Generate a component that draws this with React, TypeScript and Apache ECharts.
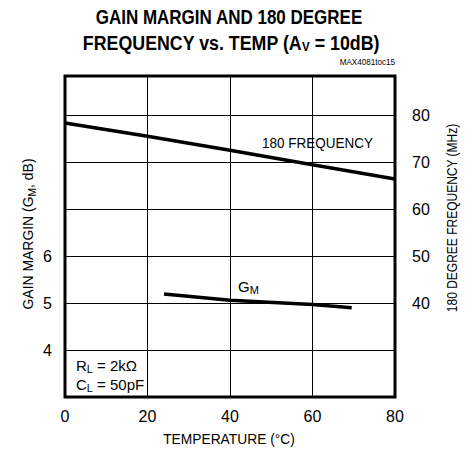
import { useEffect, useRef } from "react";
import * as echarts from "echarts";

const tempTicks = [0, 20, 40, 60, 80];
const freqTemps = [0, 20, 40, 60, 80];
const freqMHz = [78.3, 75.5, 72.5, 69.4, 66.4];
const gmTemps = [24, 40, 60, 69.5];
const gmDb = [5.19, 5.06, 4.97, 4.9];
const leftTickLabels = [4, 5, 6];
const rightTickLabels = [40, 50, 60, 70, 80];

const FONT = '"Liberation Sans", Arial, sans-serif';

export default function App() {
  const ref = useRef<HTMLDivElement>(null);
  useEffect(() => {
    if (!ref.current) return;
    const chart = echarts.init(ref.current, undefined, { renderer: "svg" });
    const sub = { fontFamily: FONT, fontSize: 11, fill: "#000", padding: [7, 0, 0, 0] };
    chart.setOption({
      animation: false,
      backgroundColor: "#fff",
      grid: {
        left: 65,
        right: 78,
        top: 76,
        bottom: 60,
        show: true,
        borderColor: "#000",
        borderWidth: 3,
        backgroundColor: "transparent",
      },
      xAxis: {
        type: "value",
        min: 0,
        max: 80,
        interval: 20,
        axisLine: { show: false },
        axisTick: { show: false },
        splitLine: { show: true, lineStyle: { color: "#000", width: 1 } },
        axisLabel: {
          margin: 11,
          fontFamily: FONT,
          fontSize: 16,
          color: "#000",
          formatter: (v: number) => (tempTicks.includes(v) ? String(v) : ""),
        },
      },
      yAxis: [
        {
          type: "value",
          min: 3,
          max: 9.83,
          interval: 1,
          axisLine: { show: false },
          axisTick: { show: false },
          splitLine: { show: true, lineStyle: { color: "#000", width: 1 } },
          axisLabel: {
            margin: 13,
            fontFamily: FONT,
            fontSize: 16,
            color: "#000",
            formatter: (v: number) => (leftTickLabels.includes(v) ? String(v) : ""),
          },
        },
        {
          type: "value",
          min: 20,
          max: 88.3,
          interval: 10,
          position: "right",
          axisLine: { show: false },
          axisTick: { show: false },
          splitLine: { show: false },
          axisLabel: {
            margin: 17,
            fontFamily: FONT,
            fontSize: 16,
            color: "#000",
            formatter: (v: number) => (rightTickLabels.includes(v) ? String(v) : ""),
          },
        },
      ],
      series: [
        {
          type: "line",
          yAxisIndex: 1,
          data: freqTemps.map((t, i) => [t, freqMHz[i]]),
          showSymbol: false,
          lineStyle: { color: "#000", width: 3.5 },
          silent: true,
        },
        {
          type: "line",
          yAxisIndex: 0,
          data: gmTemps.map((t, i) => [t, gmDb[i]]),
          showSymbol: false,
          lineStyle: { color: "#000", width: 3.5 },
          silent: true,
        },
      ],
      graphic: [
        {
          type: "text",
          x: 229,
          y: 17,
          scaleX: 0.85,
          style: {
            text: "GAIN MARGIN AND 180 DEGREE",
            font: `bold 20px ${FONT}`,
            fill: "#000",
            align: "center",
            verticalAlign: "middle",
          },
        },
        {
          type: "text",
          x: 231,
          y: 43,
          scaleX: 0.89,
          style: {
            text: "FREQUENCY vs. TEMP (A{s|V} = 10dB)",
            font: `bold 20px ${FONT}`,
            fill: "#000",
            align: "center",
            verticalAlign: "middle",
            rich: {
              s: { fontFamily: FONT, fontWeight: "bold", fontSize: 13, fill: "#000", padding: [8, 0, 0, 0] },
            },
          },
        },
        {
          type: "text",
          x: 395,
          y: 62,
          scaleX: 0.9,
          style: {
            text: "MAX4081toc15",
            font: `9px ${FONT}`,
            fill: "#000",
            align: "right",
            verticalAlign: "middle",
          },
        },
        {
          type: "text",
          x: 262,
          y: 143,
          scaleX: 0.9,
          style: {
            text: "180 FREQUENCY",
            font: `15px ${FONT}`,
            fill: "#000",
            align: "left",
            verticalAlign: "middle",
          },
        },
        {
          type: "text",
          x: 238,
          y: 286,
          style: {
            text: "G{s|M}",
            font: `15px ${FONT}`,
            fill: "#000",
            align: "left",
            verticalAlign: "middle",
            rich: { s: sub },
          },
        },
        {
          type: "text",
          x: 76,
          y: 365,
          style: {
            text: "R{s|L} = 2kΩ",
            font: `15px ${FONT}`,
            fill: "#000",
            align: "left",
            verticalAlign: "middle",
            rich: { s: sub },
          },
        },
        {
          type: "text",
          x: 76,
          y: 384,
          style: {
            text: "C{s|L} = 50pF",
            font: `15px ${FONT}`,
            fill: "#000",
            align: "left",
            verticalAlign: "middle",
            rich: { s: sub },
          },
        },
        {
          type: "text",
          x: 229,
          y: 439,
          scaleX: 0.92,
          style: {
            text: "TEMPERATURE (°C)",
            font: `15px ${FONT}`,
            fill: "#000",
            align: "center",
            verticalAlign: "middle",
          },
        },
        {
          type: "text",
          x: 28,
          y: 234,
          rotation: Math.PI / 2,
          scaleX: 0.93,
          style: {
            text: "GAIN MARGIN (G{s|M}, dB)",
            font: `15px ${FONT}`,
            fill: "#000",
            align: "center",
            verticalAlign: "middle",
            rich: { s: sub },
          },
        },
        {
          type: "text",
          x: 452,
          y: 218,
          rotation: Math.PI / 2,
          scaleX: 0.8,
          style: {
            text: "180 DEGREE FREQUENCY (MHz)",
            font: `15px ${FONT}`,
            fill: "#000",
            align: "center",
            verticalAlign: "middle",
          },
        },
      ],
    });
    return () => chart.dispose();
  }, []);
  return (
    <div
      ref={ref}
      style={{ position: "absolute", left: 0, top: 0, width: 473, height: 457 }}
    />
  );
}
